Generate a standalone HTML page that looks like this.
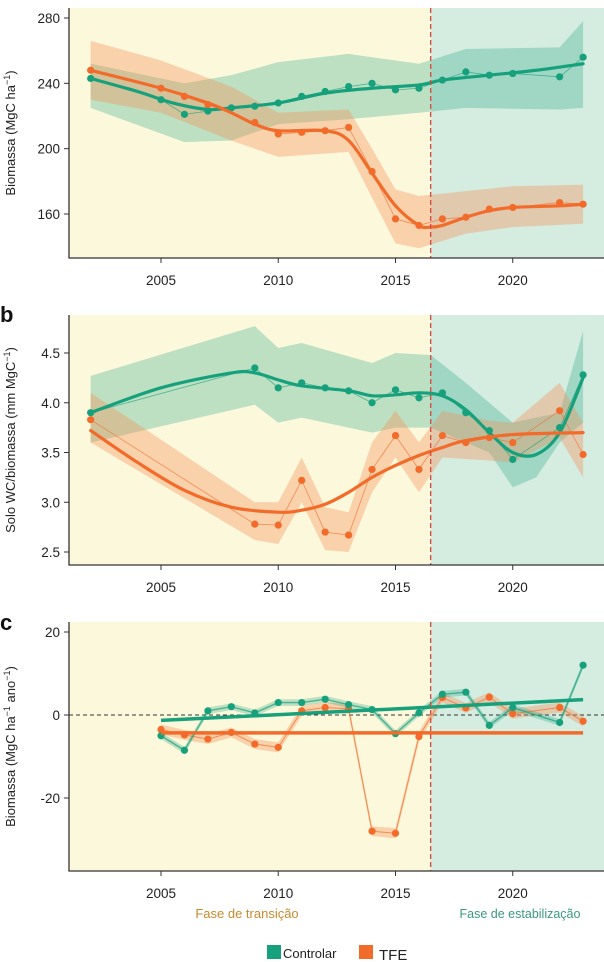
<!DOCTYPE html>
<html><head><meta charset="utf-8"><style>
html,body{margin:0;padding:0;background:#fff;}
svg{display:block;font-family:"Liberation Sans",sans-serif;}
</style></head><body>
<svg id="chart" width="604" height="962" viewBox="0 0 604 962" xmlns="http://www.w3.org/2000/svg"></svg>
<script>
// ---- Panel a data ----
const aCtlYears=[2002,2005,2006,2007,2008,2009,2010,2011,2012,2013,2014,2015,2016,2017,2018,2019,2020,2022,2023];
const aCtlVals=[243,230,221,223,225,226,228,232,235,238,240,236,237,242,247,245,246,244,256];
const aCtlSmoothYears=[2002,2004,2005.5,2007,2008,2010,2012,2014,2016,2017,2019,2021,2023];
const aCtlSmooth=[243,235,228,224,225,228,234,237,239,242,245,248,252];
const aCtlBandYears=[2002,2006,2008,2010,2013,2016,2018,2022,2023];
const aCtlUpper=[252,240,245,253,258,252,261,262,278];
const aCtlLower=[225,204,205,215,218,222,225,224,225];
const aTfeYears=[2002,2005,2006,2007,2009,2010,2011,2012,2013,2014,2015,2016,2017,2018,2019,2020,2022,2023];
const aTfeVals=[248,237,232,227,216,209,210,211,213,186,157,153,157,158,163,164,167,166];
const aTfeSmoothYears=[2002,2005,2007,2008,2009,2010,2012,2013,2014,2015,2016,2016.5,2017,2018,2019,2020,2022,2023];
const aTfeSmooth=[248,237,228,222,215,211,211,205,185,165,153,152,153,158,162,164,165,166];
const aTfeBandYears=[2002,2005,2008,2010,2013,2014,2015,2016,2018,2020,2023];
const aTfeUpper=[266,254,238,222,224,200,175,171,174,177,178];
const aTfeLower=[230,222,205,195,198,170,142,139,148,152,154];
const aTicks=[160,200,240,280];
// ---- Panel b data ----
const bCtlYears=[2002,2009,2010,2011,2012,2013,2014,2015,2016,2017,2018,2019,2020,2022,2023];
const bCtlVals=[3.9,4.35,4.15,4.2,4.15,4.12,4.0,4.13,4.05,4.1,3.9,3.72,3.43,3.75,4.28];
const bCtlSmoothYears=[2002,2005,2008,2009,2010,2011,2013,2014,2015,2016,2017,2018,2019,2020,2021,2022,2023];
const bCtlSmooth=[3.9,4.15,4.3,4.3,4.23,4.17,4.12,4.07,4.08,4.1,4.07,3.93,3.7,3.5,3.48,3.7,4.25];
const bCtlBandYears=[2002,2009,2010,2011,2014,2015,2016.5,2018,2019,2020,2021,2022,2023];
const bCtlUpper=[4.27,4.77,4.55,4.6,4.4,4.5,4.48,4.2,4.0,3.8,3.85,3.9,4.72];
const bCtlLower=[3.6,3.98,3.8,3.85,3.7,3.75,3.75,3.6,3.5,3.15,3.25,3.6,3.8];
const bTfeYears=[2002,2009,2010,2011,2012,2013,2014,2015,2016,2017,2018,2019,2020,2022,2023];
const bTfeVals=[3.83,2.78,2.77,3.22,2.7,2.67,3.33,3.67,3.33,3.67,3.6,3.65,3.6,3.92,3.48];
const bTfeSmoothYears=[2002,2004,2006,2008,2010,2011,2012,2013,2014,2015,2016,2017,2018,2020,2023];
const bTfeSmooth=[3.72,3.4,3.12,2.95,2.9,2.92,2.98,3.1,3.25,3.37,3.47,3.55,3.62,3.68,3.7];
const bTfeBandYears=[2002,2009,2010,2011,2012,2013,2014,2015,2016,2017,2019,2020,2022,2023];
const bTfeUpper=[4.1,3.0,3.0,3.45,2.95,2.9,3.6,3.92,3.6,3.92,3.82,3.8,4.2,3.8];
const bTfeLower=[3.6,2.62,2.58,3.0,2.52,2.5,3.1,3.45,3.1,3.45,3.42,3.4,3.65,3.25];
const bTicks=[2.5,3.0,3.5,4.0,4.5];
// ---- Panel c data ----
const cYears=[2005,2006,2007,2008,2009,2010,2011,2012,2013,2014,2015,2016,2017,2018,2019,2020,2022,2023];
const cCtlVals=[-5,-8.5,1,2,0.5,3,3,3.8,2.5,1.3,-4.5,0.5,5,5.5,-2.5,1.8,-1.8,12];
const cTfeVals=[-3.5,-4.8,-5.8,-4.2,-7,-7.8,1,1.8,1.5,-28,-28.5,-5.2,4.2,1.7,4.3,0.3,1.8,-1.5];
const cCtlTrend=[-1.3,3.7];
const cTfeTrend=[-4.3,-4.3];
const cTicks=[-20,0,20];
const xTicks=[2005,2010,2015,2020];

const GREEN="#17a07c", ORANGE="#f26b2a";
const svg=document.getElementById('chart');
const NS="http://www.w3.org/2000/svg";
function mk(tag,attrs,parent){const e=document.createElementNS(NS,tag);for(const k in attrs)e.setAttribute(k,attrs[k]);(parent||svg).appendChild(e);return e;}
const X0=69, XR=604;
function xs(yr){return 161+(yr-2005)*23.45;}
function catmull(pts){let d="M"+pts[0][0]+","+pts[0][1];for(let i=0;i<pts.length-1;i++){const p0=pts[Math.max(0,i-1)],p1=pts[i],p2=pts[i+1],p3=pts[Math.min(pts.length-1,i+2)];const c1x=p1[0]+(p2[0]-p0[0])/6,c1y=p1[1]+(p2[1]-p0[1])/6,c2x=p2[0]-(p3[0]-p1[0])/6,c2y=p2[1]-(p3[1]-p1[1])/6;d+=" C"+c1x+","+c1y+" "+c2x+","+c2y+" "+p2[0]+","+p2[1];}return d;}
function poly(pts){return "M"+pts.map(p=>p[0]+","+p[1]).join(" L");}

function panel(cfg){
  const g=mk('g',{});
  
  
  const ys=v=>cfg.y0+(v-cfg.v0)*(cfg.y1-cfg.y0)/(cfg.v1-cfg.v0);
  const xd=xs(2016.5);
  const bg1=mk('rect',{x:X0,y:cfg.top,width:xd-X0,height:cfg.bottom-cfg.top,fill:"#fcf8dc"},g);
  
  const bg2=mk('rect',{x:xd,y:cfg.top,width:XR-xd,height:cfg.bottom-cfg.top,fill:"#d5ece0"},g);
  
  if(cfg.draw) cfg.draw(g,ys);
  const dl=mk('line',{x1:xd,x2:xd,y1:cfg.top,y2:cfg.bottom,stroke:"#d9473f","stroke-width":1.3,"stroke-dasharray":"5,3"},g);
  
  const ax=mk('path',{d:`M${X0},${cfg.top} L${X0},${cfg.bottom} L${XR},${cfg.bottom}`,fill:"none",stroke:"#333","stroke-width":1.3},g);
  
  cfg.ticks.forEach(t=>{
    const y=ys(t);
    mk('line',{x1:X0-5,x2:X0,y1:y,y2:y,stroke:"#333","stroke-width":1},g);
    const tx=mk('text',{x:X0-9,y:y+5,"text-anchor":"end","font-size":13.5,fill:"#222"},g);
    tx.textContent=cfg.fmt?cfg.fmt(t):t;
    
  });
  xTicks.forEach(t=>{
    const x=xs(t);
    mk('line',{x1:x,x2:x,y1:cfg.bottom,y2:cfg.bottom+5,stroke:"#333","stroke-width":1},g);
    const tx=mk('text',{x:x,y:cfg.bottom+27,"text-anchor":"middle","font-size":13.5,fill:"#222"},g);
    tx.textContent=t;
    
  });
  const yt=mk('text',{x:0,y:0,transform:`translate(15,${(cfg.top+cfg.bottom)/2}) rotate(-90)`,"text-anchor":"middle","font-size":13,fill:"#222"},g);
  yt.innerHTML=cfg.title;
  
  return {g,ys};
}
function band(g,ys,years,up,lo,color,op,name){
  const u=years.map((y,i)=>[xs(y),ys(up[i])]);
  const l=years.map((y,i)=>[xs(y),ys(lo[i])]).reverse();
  const p=mk('path',{d:poly(u.concat(l))+"Z",fill:color,"fill-opacity":op},g);
  
}
function pts(g,ys,years,vals,color,name,thin){
  const pp=years.map((y,i)=>[xs(y),ys(vals[i])]);
  const l=mk('path',{d:poly(pp),fill:"none",stroke:color,"stroke-width":thin,"stroke-opacity":0.7},g);
  
  pp.forEach(p=>{const c=mk('circle',{cx:p[0],cy:p[1],r:3.6,fill:color},g);
    });
}
function smooth(g,ys,years,vals,color,name){
  const p=mk('path',{d:catmull(years.map((y,i)=>[xs(y),ys(vals[i])])),fill:"none",stroke:color,"stroke-width":3.2,"stroke-linecap":"round"},g);
  
}

// Panel a
panel({name:'panel-a',top:8,bottom:258,v0:280,y0:18,v1:160,y1:214,ticks:aTicks,
 title:'Biomassa (MgC ha<tspan font-size="9" dy="-5">−1</tspan><tspan dy="5">)</tspan>',
 draw:(g,ys)=>{
  band(g,ys,aCtlBandYears,aCtlUpper,aCtlLower,GREEN,0.28,'control-band');
  band(g,ys,aTfeBandYears,aTfeUpper,aTfeLower,"#f5905a",0.38,'tfe-band');
  pts(g,ys,aCtlYears,aCtlVals,GREEN,'control',0.8);
  pts(g,ys,aTfeYears,aTfeVals,ORANGE,'tfe',0.8);
  smooth(g,ys,aCtlSmoothYears,aCtlSmooth,GREEN,'control-smooth');
  smooth(g,ys,aTfeSmoothYears,aTfeSmooth,ORANGE,'tfe-smooth');
 }});
// Panel b
panel({name:'panel-b',top:315,bottom:565,v0:4.5,y0:353,v1:2.5,y1:552,ticks:bTicks,fmt:t=>t.toFixed(1),
 title:'Solo WC/biomassa (mm MgC<tspan font-size="9" dy="-5">−1</tspan><tspan dy="5">)</tspan>',
 draw:(g,ys)=>{
  band(g,ys,bCtlBandYears,bCtlUpper,bCtlLower,GREEN,0.28,'control-band');
  band(g,ys,bTfeBandYears,bTfeUpper,bTfeLower,"#f5905a",0.38,'tfe-band');
  pts(g,ys,bCtlYears,bCtlVals,GREEN,'control',0.8);
  pts(g,ys,bTfeYears,bTfeVals,ORANGE,'tfe',0.8);
  smooth(g,ys,bCtlSmoothYears,bCtlSmooth,GREEN,'control-smooth');
  smooth(g,ys,bTfeSmoothYears,bTfeSmooth,ORANGE,'tfe-smooth');
 }});
// Panel c
panel({name:'panel-c',top:622,bottom:871,v0:20,y0:632,v1:-20,y1:798,ticks:cTicks,
 title:'Biomassa (MgC ha<tspan font-size="9" dy="-5">−1</tspan><tspan dy="5"> ano</tspan><tspan font-size="9" dy="-5">−1</tspan><tspan dy="5">)</tspan>',
 draw:(g,ys)=>{
  const z=mk('line',{x1:X0,x2:XR,y1:ys(0),y2:ys(0),stroke:"#333","stroke-width":1,"stroke-dasharray":"4,3"},g);
  
  band(g,ys,cYears,cTfeVals.map(v=>v+1.2),cTfeVals.map(v=>v-1.2),"#f5905a",0.38,'tfe-band');
  band(g,ys,cYears,cCtlVals.map(v=>v+0.8),cCtlVals.map(v=>v-0.8),GREEN,0.28,'control-band');
  pts(g,ys,cYears,cTfeVals,ORANGE,'tfe',1);
  pts(g,ys,cYears,cCtlVals,GREEN,'control',1.4);
  const y0=cYears[0],y1=cYears[cYears.length-1];
  const t1=mk('line',{x1:xs(y0),x2:xs(y1),y1:ys(cTfeTrend[0]),y2:ys(cTfeTrend[1]),stroke:ORANGE,"stroke-width":3.5},g);
  
  const t2=mk('line',{x1:xs(y0),x2:xs(y1),y1:ys(cCtlTrend[0]),y2:ys(cCtlTrend[1]),stroke:GREEN,"stroke-width":3.5},g);
  
 }});

// panel letters
[['a',-2],['b',322],['c',630]].forEach(([l,y])=>{
  const t=mk('text',{x:0,y:y,"font-size":22,"font-weight":"bold",fill:"#111"});
  t.textContent=l;
  
  
});
// phase labels
const p1=mk('text',{x:247,y:918,"text-anchor":"middle","font-size":13,fill:"#c98a2e"});
p1.textContent="Fase de transição";


const p2=mk('text',{x:520,y:918,"text-anchor":"middle","font-size":12.5,fill:"#3a9a80"});
p2.textContent="Fase de estabilização";


// legend
const lg=mk('g',{});


const r1=mk('rect',{x:267,y:945,width:14,height:14,fill:GREEN},lg);


const l1=mk('text',{x:283,y:958,"font-size":13,fill:"#222"},lg);
l1.textContent="Controlar";


const r2=mk('rect',{x:359,y:945,width:14,height:14,fill:ORANGE},lg);


const l2=mk('text',{x:379,y:960,"font-size":15,fill:"#222"},lg);
l2.textContent="TFE";


</script>
</body></html>
